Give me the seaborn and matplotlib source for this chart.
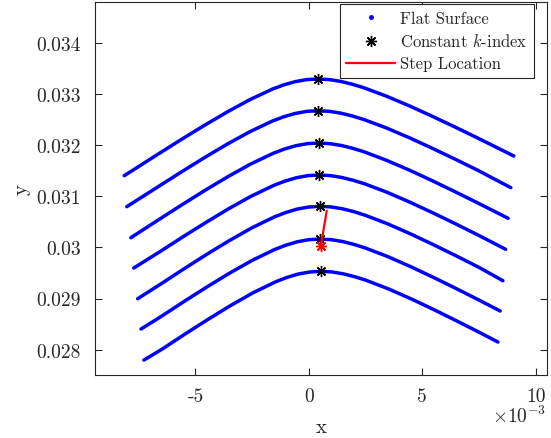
import numpy as np
import pandas as pd
import matplotlib
matplotlib.use("Agg")
import matplotlib.pyplot as plt
from matplotlib.lines import Line2D
import seaborn as sns

# Surface profiles: x in units of 1e-3, y in units of 1e-3
x1 = [-8.14, -6.60, -5.60, -4.60, -3.60, -2.60, -1.60, -1.10, -0.60, -0.10, 0.40, 0.90, 1.40, 1.90, 2.40, 3.40, 4.40, 5.40, 6.40, 7.40, 9.04]
y1 = [31.400, 31.835, 32.114, 32.385, 32.645, 32.886, 33.093, 33.175, 33.238, 33.277, 33.290, 33.278, 33.243, 33.189, 33.122, 32.958, 32.771, 32.570, 32.361, 32.146, 31.785]
x2 = [-8.03, -6.59, -5.59, -4.59, -3.59, -2.59, -1.59, -1.09, -0.59, -0.09, 0.41, 0.91, 1.41, 1.91, 2.41, 3.41, 4.41, 5.41, 6.41, 7.41, 8.91]
y2 = [30.794, 31.200, 31.482, 31.756, 32.019, 32.262, 32.471, 32.554, 32.617, 32.657, 32.670, 32.657, 32.622, 32.568, 32.500, 32.335, 32.146, 31.943, 31.732, 31.515, 31.166]
x3 = [-7.85, -6.57, -5.57, -4.57, -3.57, -2.57, -1.57, -1.07, -0.57, -0.07, 0.43, 0.93, 1.43, 1.93, 2.43, 3.43, 4.43, 5.43, 6.43, 7.43, 8.79]
y3 = [30.188, 30.555, 30.839, 31.116, 31.381, 31.627, 31.838, 31.922, 31.986, 32.026, 32.039, 32.026, 31.991, 31.936, 31.868, 31.700, 31.510, 31.305, 31.091, 30.872, 30.568]
x4 = [-7.72, -6.54, -5.54, -4.54, -3.54, -2.54, -1.54, -1.04, -0.54, -0.04, 0.46, 0.96, 1.46, 1.96, 2.46, 3.46, 4.46, 5.46, 6.46, 7.46, 8.68]
y4 = [29.596, 29.923, 30.209, 30.486, 30.753, 31.000, 31.212, 31.296, 31.361, 31.401, 31.414, 31.401, 31.365, 31.310, 31.242, 31.074, 30.882, 30.676, 30.462, 30.241, 29.962]
x5 = [-7.55, -6.51, -5.51, -4.51, -3.51, -2.51, -1.51, -1.01, -0.51, -0.01, 0.49, 0.99, 1.49, 1.99, 2.49, 3.49, 4.49, 5.49, 6.49, 7.49, 8.56]
y5 = [28.996, 29.289, 29.579, 29.861, 30.131, 30.382, 30.597, 30.682, 30.748, 30.788, 30.802, 30.789, 30.753, 30.697, 30.627, 30.457, 30.262, 30.053, 29.836, 29.612, 29.348]
x6 = [-7.40, -6.51, -5.51, -4.51, -3.51, -2.51, -1.51, -1.01, -0.51, -0.01, 0.49, 0.99, 1.49, 1.99, 2.49, 3.49, 4.49, 5.49, 6.49, 7.49, 8.44]
y6 = [28.404, 28.650, 28.940, 29.222, 29.492, 29.743, 29.958, 30.043, 30.109, 30.149, 30.163, 30.150, 30.114, 30.058, 29.988, 29.818, 29.623, 29.414, 29.197, 28.973, 28.756]
x7 = [-7.27, -6.47, -5.47, -4.47, -3.47, -2.47, -1.47, -0.97, -0.47, 0.03, 0.53, 1.03, 1.53, 2.03, 2.53, 3.53, 4.53, 5.53, 6.53, 7.53, 8.34]
y7 = [27.798, 28.012, 28.303, 28.586, 28.858, 29.110, 29.326, 29.412, 29.478, 29.518, 29.532, 29.519, 29.482, 29.426, 29.356, 29.185, 28.990, 28.780, 28.561, 28.337, 28.150]

# Constant k-index points (x in 1e-3, y in 1e-3)
k_x = [0.40, 0.41, 0.43, 0.46, 0.49, 0.49, 0.53]
k_y = [33.290, 32.670, 32.039, 31.414, 30.802, 30.163, 29.532]

# Step location segment (x in 1e-3, y in 1e-3)
step_x = [0.79, 0.53]
step_y = [30.716, 30.020]

x_ticks = [-5, 0, 5, 10]
x_tick_labels = ["-5", "0", "5", "10"]
y_ticks = [0.028, 0.029, 0.030, 0.031, 0.032, 0.033, 0.034]
y_tick_labels = ["0.028", "0.029", "0.03", "0.031", "0.032", "0.033", "0.034"]

xs = [x1, x2, x3, x4, x5, x6, x7]
ys = [y1, y2, y3, y4, y5, y6, y7]
frames = []
for i, (xx, yy) in enumerate(zip(xs, ys)):
    frames.append(pd.DataFrame({"x": np.array(xx) * 1e-3,
                                "y": np.array(yy) * 1e-3,
                                "curve": i}))
df = pd.concat(frames, ignore_index=True)

sns.set_style("ticks")
plt.rcParams["font.family"] = ["cmr10"]
plt.rcParams["mathtext.fontset"] = "cm"
plt.rcParams["axes.unicode_minus"] = False
plt.rcParams["axes.formatter.use_mathtext"] = True

dark = "#262626"
fig = plt.figure(figsize=(5.51, 4.39), dpi=100)
ax = fig.add_axes([0.1724, 0.1435, 0.8198, 0.8497])

sns.lineplot(data=df, x="x", y="y", units="curve", estimator=None, sort=False,
             color=(0, 0, 1), lw=2.5, ax=ax, legend=False)

asterisk = (8, 2, 0)
ax.plot(np.array(k_x) * 1e-3, np.array(k_y) * 1e-3, ls="none", marker=asterisk,
        ms=8, mew=1.0, color="black", zorder=4)
ax.plot(np.array(step_x) * 1e-3, np.array(step_y) * 1e-3, color=(1, 0, 0), lw=1.6, zorder=5)
ax.plot([step_x[-1] * 1e-3], [step_y[-1] * 1e-3], ls="none", marker=asterisk,
        ms=8, mew=1.0, color=(1, 0, 0), zorder=5)

ax.set_xlim(-9.43e-3, 10.49e-3)
ax.set_ylim(0.027506, 0.034794)
ax.set_xticks(np.array(x_ticks) * 1e-3)
ax.set_xticklabels(x_tick_labels)
ax.set_yticks(y_ticks)
ax.set_yticklabels(y_tick_labels)

ax.tick_params(axis="both", which="both", direction="in", top=True, right=True,
               length=5, width=0.8, color=dark, labelcolor=dark, labelsize=14)
ax.tick_params(axis="x", pad=9)
ax.tick_params(axis="y", pad=10)
for s in ax.spines.values():
    s.set_visible(True)
    s.set_color(dark)
    s.set_linewidth(0.8)

ax.set_xlabel("x", fontsize=15, color=dark, labelpad=9)
ax.set_ylabel("y", fontsize=15, color=dark, labelpad=4)
ax.text(1.0, -0.08, r"$\times10^{-3}$", transform=ax.transAxes, ha="right",
        va="top", fontsize=14, color=dark)

handles = [
    Line2D([], [], ls="none", marker=".", ms=5, color=(0, 0, 1)),
    Line2D([], [], ls="none", marker=asterisk, ms=8, mew=1.0, color="black"),
    Line2D([], [], color=(1, 0, 0), lw=1.6),
]
labels = ["Flat Surface", r"Constant $k$-index", "Step Location"]
leg = ax.legend(handles, labels, loc="upper right", bbox_to_anchor=(0.972, 0.995),
                fontsize=12, frameon=True, fancybox=False, framealpha=1,
                edgecolor=dark, borderpad=0.4, labelspacing=0.4,
                handlelength=2.9, handletextpad=0.3, borderaxespad=0)
leg.get_frame().set_linewidth(0.8)

fig.savefig("out.png", dpi=100)
